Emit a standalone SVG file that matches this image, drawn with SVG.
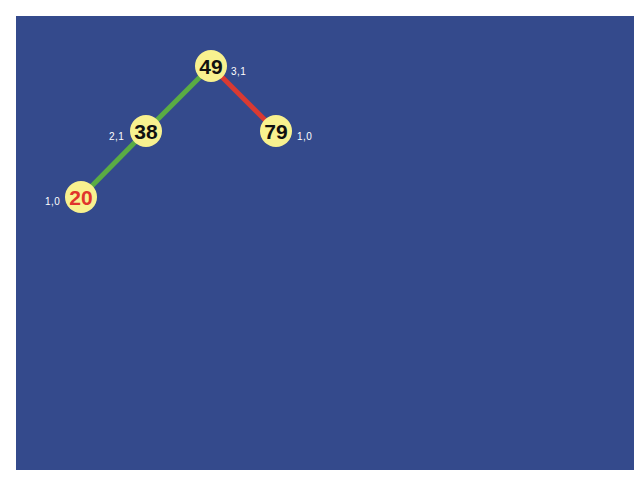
<svg xmlns="http://www.w3.org/2000/svg" width="640" height="480" viewBox="0 0 640 480">
<style>
.node circle{fill:#f8f18f}
.node .v{font-family:"Liberation Sans",Arial,sans-serif;font-size:21px;font-weight:bold;text-anchor:middle;fill:#111}
.node .lbl{font-family:"Liberation Sans",Arial,sans-serif;font-size:10px;fill:#fff;letter-spacing:0.5px}
.edge{stroke-width:5;stroke-linecap:butt}
</style>
<rect x="0" y="0" width="640" height="480" fill="#fff"/>
<rect x="16" y="16" width="618" height="454" fill="#344a8c"/>
<g id="connectors">
<line class="edge" x1="211" y1="66" x2="146" y2="131" stroke="#5aac44"/>
<line class="edge" x1="146" y1="131" x2="81" y2="197" stroke="#5aac44"/>
<line class="edge" x1="211" y1="66" x2="276" y2="131" stroke="#d93a32"/>
</g>
<g id="n49" class="node"><circle cx="211" cy="66" r="16"/><text class="v" x="211" y="73.5">49</text><text class="lbl" x="231" y="75">3,1</text></g>
<g id="n38" class="node"><circle cx="146" cy="131" r="16"/><text class="v" x="146" y="138.5">38</text><text class="lbl" x="109" y="140">2,1</text></g>
<g id="n79" class="node"><circle cx="276" cy="131" r="16"/><text class="v" x="276" y="138.5">79</text><text class="lbl" x="297" y="140">1,0</text></g>
<g id="n20" class="node"><circle cx="81" cy="197" r="16"/><text class="v" x="81" y="204.5" style="fill:#e0342c">20</text><text class="lbl" x="45" y="205">1,0</text></g>
</svg>
